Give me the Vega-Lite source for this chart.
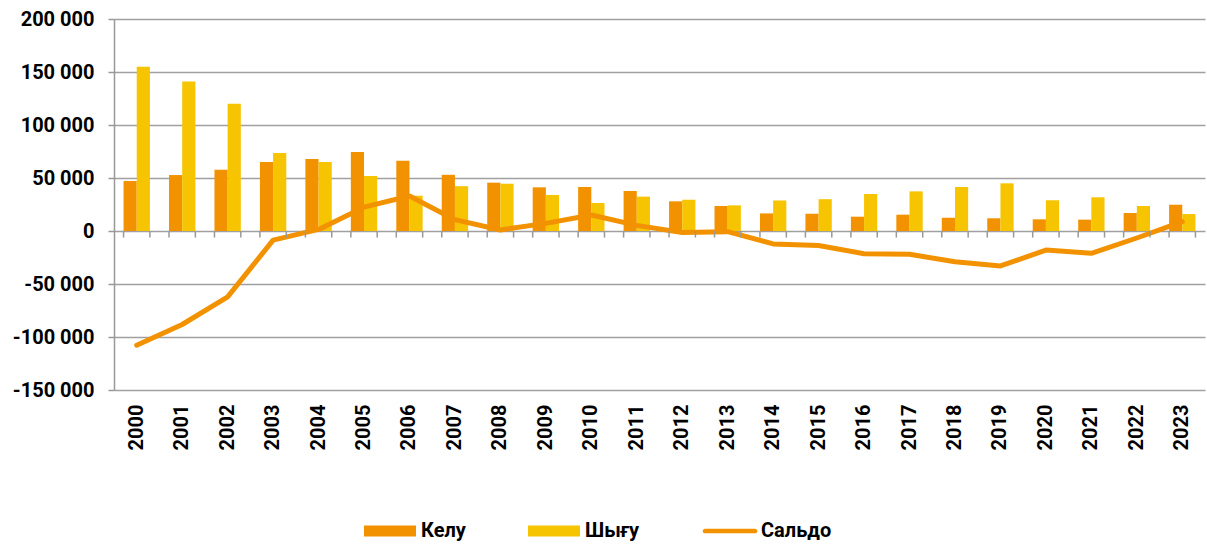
{
  "$schema": "https://vega.github.io/schema/vega-lite/v6.json",
  "width": 1091,
  "height": 371,
  "autosize": "none",
  "padding": {"left": 114, "top": 19, "right": 2, "bottom": 154},
  "background": "white",
  "config": {
    "view": {"stroke": null},
    "font": "Roboto",
    "locale": {"number": {"decimal": ".", "thousands": " ", "grouping": [3], "currency": ["", ""], "minus": "-"}}
  },
  "datasets": {
    "bars": [
      {"year": "2000", "series": "Келу", "value": 47200}, {"year": "2000", "series": "Шығу", "value": 155000},
      {"year": "2001", "series": "Келу", "value": 52800}, {"year": "2001", "series": "Шығу", "value": 141000},
      {"year": "2002", "series": "Келу", "value": 57800}, {"year": "2002", "series": "Шығу", "value": 120000},
      {"year": "2003", "series": "Келу", "value": 65000}, {"year": "2003", "series": "Шығу", "value": 73600},
      {"year": "2004", "series": "Келу", "value": 68000}, {"year": "2004", "series": "Шығу", "value": 65000},
      {"year": "2005", "series": "Келу", "value": 74500}, {"year": "2005", "series": "Шығу", "value": 52000},
      {"year": "2006", "series": "Келу", "value": 66300}, {"year": "2006", "series": "Шығу", "value": 33300},
      {"year": "2007", "series": "Келу", "value": 53000}, {"year": "2007", "series": "Шығу", "value": 42300},
      {"year": "2008", "series": "Келу", "value": 45600}, {"year": "2008", "series": "Шығу", "value": 44600},
      {"year": "2009", "series": "Келу", "value": 41200}, {"year": "2009", "series": "Шығу", "value": 34000},
      {"year": "2010", "series": "Келу", "value": 41500}, {"year": "2010", "series": "Шығу", "value": 26400},
      {"year": "2011", "series": "Келу", "value": 37700}, {"year": "2011", "series": "Шығу", "value": 32400},
      {"year": "2012", "series": "Келу", "value": 28000}, {"year": "2012", "series": "Шығу", "value": 29500},
      {"year": "2013", "series": "Келу", "value": 23600}, {"year": "2013", "series": "Шығу", "value": 24200},
      {"year": "2014", "series": "Келу", "value": 16600}, {"year": "2014", "series": "Шығу", "value": 28800},
      {"year": "2015", "series": "Келу", "value": 16300}, {"year": "2015", "series": "Шығу", "value": 30000},
      {"year": "2016", "series": "Келу", "value": 13500}, {"year": "2016", "series": "Шығу", "value": 34900},
      {"year": "2017", "series": "Келу", "value": 15400}, {"year": "2017", "series": "Шығу", "value": 37400},
      {"year": "2018", "series": "Келу", "value": 12500}, {"year": "2018", "series": "Шығу", "value": 41500},
      {"year": "2019", "series": "Келу", "value": 12000}, {"year": "2019", "series": "Шығу", "value": 45000},
      {"year": "2020", "series": "Келу", "value": 11000}, {"year": "2020", "series": "Шығу", "value": 29000},
      {"year": "2021", "series": "Келу", "value": 10700}, {"year": "2021", "series": "Шығу", "value": 31800},
      {"year": "2022", "series": "Келу", "value": 17000}, {"year": "2022", "series": "Шығу", "value": 23600},
      {"year": "2023", "series": "Келу", "value": 24800}, {"year": "2023", "series": "Шығу", "value": 16000}
    ],
    "saldo": [
      {"year": "2000", "series": "Сальдо", "value": -107800},
      {"year": "2001", "series": "Сальдо", "value": -88200},
      {"year": "2002", "series": "Сальдо", "value": -62200},
      {"year": "2003", "series": "Сальдо", "value": -8600},
      {"year": "2004", "series": "Сальдо", "value": 1500},
      {"year": "2005", "series": "Сальдо", "value": 22500},
      {"year": "2006", "series": "Сальдо", "value": 33000},
      {"year": "2007", "series": "Сальдо", "value": 10700},
      {"year": "2008", "series": "Сальдо", "value": 1000},
      {"year": "2009", "series": "Сальдо", "value": 7200},
      {"year": "2010", "series": "Сальдо", "value": 15100},
      {"year": "2011", "series": "Сальдо", "value": 5300},
      {"year": "2012", "series": "Сальдо", "value": -1500},
      {"year": "2013", "series": "Сальдо", "value": -600},
      {"year": "2014", "series": "Сальдо", "value": -12200},
      {"year": "2015", "series": "Сальдо", "value": -13700},
      {"year": "2016", "series": "Сальдо", "value": -21400},
      {"year": "2017", "series": "Сальдо", "value": -22000},
      {"year": "2018", "series": "Сальдо", "value": -29000},
      {"year": "2019", "series": "Сальдо", "value": -33000},
      {"year": "2020", "series": "Сальдо", "value": -18000},
      {"year": "2021", "series": "Сальдо", "value": -21100},
      {"year": "2022", "series": "Сальдо", "value": -6600},
      {"year": "2023", "series": "Сальдо", "value": 8800}
    ]
  },
  "encoding": {
    "x": {
      "field": "year", "type": "nominal",
      "scale": {"paddingInner": 0.42, "paddingOuter": 0.21},
      "axis": {
        "title": null, "labelAngle": -90, "labelAlign": "right", "labelBaseline": "middle",
        "labelFont": "Roboto", "labelFontWeight": "bold", "labelFontSize": 20, "labelColor": "#000000",
        "labelPadding": 14, "ticks": false, "domain": false, "grid": false
      }
    },
    "y": {
      "field": "value", "type": "quantitative",
      "scale": {"domain": [-150000, 200000], "nice": false, "zero": false},
      "axis": {
        "title": null, "values": [-150000, -100000, -50000, 0, 50000, 100000, 150000, 200000],
        "format": ",d", "labelFont": "Roboto", "labelFontWeight": "bold", "labelFontSize": 20, "labelColor": "#000000",
        "labelPadding": 14, "tickSize": 6, "tickColor": "#999999", "tickWidth": 1.5,
        "domainColor": "#999999", "domainWidth": 1.5,
        "gridColor": "#A0A0A0", "gridWidth": 1.6
      }
    }
  },
  "layer": [
    {
      "data": {"name": "bars"},
      "mark": {"type": "bar"},
      "encoding": {
        "xOffset": {"field": "series", "type": "nominal", "scale": {"domain": ["Келу", "Шығу"], "paddingInner": 0, "paddingOuter": 0}},
        "color": {
          "field": "series", "type": "nominal",
          "scale": {"domain": ["Келу", "Шығу", "Сальдо"], "range": ["#F39200", "#F6C400", "#F39200"]},
          "legend": {
            "title": null, "orient": "none", "legendX": 250, "legendY": 486, "direction": "horizontal",
            "gridAlign": "none", "columnPadding": 62, "symbolSize": 2704, "labelOffset": 5,
            "labelFont": "Roboto", "labelFontWeight": "bold", "labelFontSize": 20, "labelColor": "#000000",
            "symbolStrokeWidth": 0,
            "encode": {
              "symbols": {
                "update": {
                  "shape": {"signal": "datum.value === 'Сальдо' ? 'M-0.96,-0.09H0.96A0.09,0.09,0,0,1,0.96,0.09H-0.96A0.09,0.09,0,0,1,-0.96,-0.09Z' : 'M-1,-0.21H1V0.21H-1Z'"},
                  "fill": {"signal": "datum.value === 'Шығу' ? '#F6C400' : '#F39200'"},
                  "opacity": {"value": 1},
                  "strokeWidth": {"value": 0}
                }
              }
            }
          }
        }
      }
    },
    {
      "data": {"name": "saldo"},
      "mark": {"type": "line", "strokeWidth": 5, "strokeCap": "round", "strokeJoin": "round"},
      "encoding": {
        "color": {"field": "series", "type": "nominal"}
      }
    },
    {
      "data": {"name": "saldo"},
      "mark": {"type": "rule", "color": "#999999", "strokeWidth": 1.5},
      "encoding": {
        "x": {"field": "year", "type": "nominal", "bandPosition": 0},
        "y": {"datum": 0},
        "y2": {"datum": -6200}
      }
    },
    {
      "data": {"name": "saldo"},
      "mark": {"type": "rule", "color": "#999999", "strokeWidth": 1.5},
      "encoding": {
        "x": {"field": "year", "type": "nominal", "bandPosition": 1},
        "y": {"datum": 0},
        "y2": {"datum": -6200}
      }
    },
    {
      "data": {"name": "saldo"},
      "mark": {"type": "rule", "color": "#999999", "strokeWidth": 1.5},
      "encoding": {
        "y": {"datum": 0}
      }
    }
  ]
}
